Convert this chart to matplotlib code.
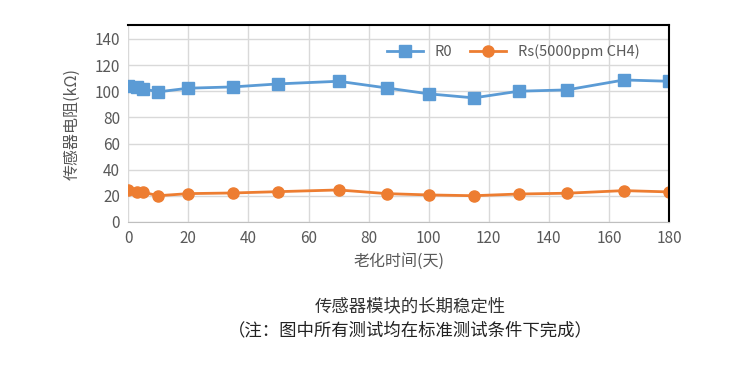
import matplotlib
matplotlib.use("Agg")
import matplotlib.pyplot as plt

plt.rcParams['font.family'] = ['Noto Sans CJK SC', 'DejaVu Sans']

# aging days and resistance readings (kOhm)
days = [0, 3, 5, 10, 20, 35, 50, 70, 86, 100, 115, 130, 146, 165, 180]
r0 = [104.3, 103.0, 101.8, 99.5, 102.3, 103.3, 105.6, 107.6, 102.5, 98.0, 94.9, 100.0, 101.0, 108.6, 107.6]
rs = [24.5, 23.2, 22.7, 20.1, 21.7, 22.2, 23.2, 24.5, 21.7, 20.7, 20.1, 21.4, 22.0, 24.0, 23.0]
xticks = list(range(0, 181, 20))
yticks = list(range(0, 141, 20))

blue = "#5B9BD5"
orange = "#ED7D31"
grey = "#595959"

fig = plt.figure(figsize=(7.5, 3.7), dpi=100)
ax = fig.add_axes([0.171, 0.40, 0.721, 0.532])

ax.plot(days, r0, color=blue, marker="s", markersize=8, linewidth=2, label="R0")
ax.plot(days, rs, color=orange, marker="o", markersize=8, linewidth=2, label="Rs(5000ppm CH4)")

ax.set_xlim(0, 180)
ax.set_ylim(0, 150.5)
ax.set_xticks(xticks)
ax.set_yticks(yticks)
ax.grid(True, color="#d9d9d9", linewidth=1)
ax.set_axisbelow(True)
ax.tick_params(length=0, colors=grey, labelsize=11, pad=6)

ax.spines["left"].set_visible(False)
ax.spines["bottom"].set_color("#bfbfbf")
ax.spines["top"].set_color("black")
ax.spines["right"].set_color("black")
ax.spines["top"].set_linewidth(1.5)
ax.spines["right"].set_linewidth(1.5)

ax.set_ylabel("传感器电阻(kΩ)", color=grey, fontsize=11.5, labelpad=10)
ax.set_xlabel("老化时间(天)", color=grey, fontsize=11.5, labelpad=4)

ax.legend(loc="upper right", ncol=2, frameon=False, fontsize=10.5,
          bbox_to_anchor=(0.97, 0.97), labelcolor=grey, handlelength=2.5,
          columnspacing=1.2)

fig.text(0.547, 0.173, "传感器模块的长期稳定性", ha="center", va="center",
         fontsize=12.5, color="#333333")
fig.text(0.547, 0.108, "（注：图中所有测试均在标准测试条件下完成）", ha="center", va="center",
         fontsize=12.5, color="#222222")

fig.savefig("out.png", dpi=100)
